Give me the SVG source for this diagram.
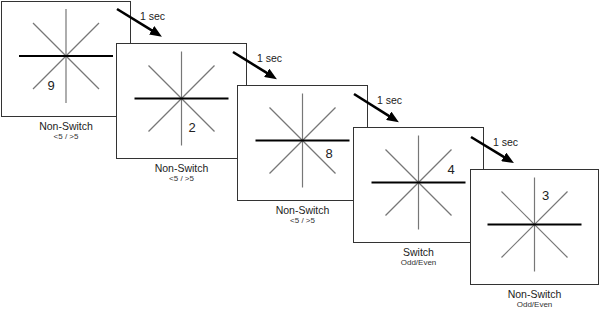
<svg xmlns="http://www.w3.org/2000/svg" xmlns:xlink="http://www.w3.org/1999/xlink" width="600" height="309" viewBox="0 0 600 309">
<style>
.frame{fill:#fff;stroke:#333;stroke-width:1}
.spoke{stroke:#777;stroke-width:1.2;fill:none}
.bar{stroke:#000;stroke-width:2;fill:none}
.digit{font-family:"Liberation Sans",Arial,sans-serif;font-size:13px;fill:#222;text-anchor:middle}
.lbl{font-family:"Liberation Sans",Arial,sans-serif;font-size:10.5px;fill:#222;text-anchor:middle}
.sub{font-family:"Liberation Sans",Arial,sans-serif;font-size:8px;fill:#333;text-anchor:middle}
.sec{font-family:"Liberation Sans",Arial,sans-serif;font-size:10.5px;fill:#222}
.arrow{stroke:#000;stroke-width:2.6;fill:none;marker-end:url(#head)}
</style>
<defs>
<marker id="head" markerUnits="userSpaceOnUse" viewBox="0 0 12 10" refX="2" refY="5" markerWidth="12" markerHeight="10" orient="auto">
<path d="M0,0 L12,5 L0,10 z" fill="#000"/>
</marker>
<g id="star">
<line class="spoke" x1="0" y1="-47" x2="0" y2="47"/>
<line class="spoke" x1="-33" y1="-33" x2="33" y2="33"/>
<line class="spoke" x1="-33" y1="33" x2="33" y2="-33"/>
<line class="bar" x1="-47" y1="0" x2="47" y2="0"/>
</g>
</defs>
<g id="node1">
<rect class="frame" x="1.5" y="1.5" width="129" height="115"/>
<use xlink:href="#star" href="#star" transform="translate(66,56)"/>
<text class="digit" x="51" y="89.7">9</text>
<text class="lbl" x="66" y="129.5">Non-Switch</text>
<text class="sub" x="66" y="138.5">&lt;5 / &gt;5</text>
</g>
<g id="node2">
<rect class="frame" x="116.5" y="43.5" width="130" height="115"/>
<use xlink:href="#star" href="#star" transform="translate(181.5,98.5)"/>
<text class="digit" x="192" y="131.7">2</text>
<text class="lbl" x="181.5" y="171.5">Non-Switch</text>
<text class="sub" x="181.5" y="180.5">&lt;5 / &gt;5</text>
</g>
<g id="node3">
<rect class="frame" x="237.5" y="85.5" width="130" height="115"/>
<use xlink:href="#star" href="#star" transform="translate(302.5,140.5)"/>
<text class="digit" x="329" y="157.7">8</text>
<text class="lbl" x="302.5" y="213.5">Non-Switch</text>
<text class="sub" x="302.5" y="222.5">&lt;5 / &gt;5</text>
</g>
<g id="node4">
<rect class="frame" x="353.5" y="127.5" width="130" height="115"/>
<use xlink:href="#star" href="#star" transform="translate(418.5,182.5)"/>
<text class="digit" x="451" y="173.7">4</text>
<text class="lbl" x="418.5" y="255.5">Switch</text>
<text class="sub" x="418.5" y="264.5">Odd/Even</text>
</g>
<g id="node5">
<rect class="frame" x="470.5" y="169.5" width="128" height="115"/>
<use xlink:href="#star" href="#star" transform="translate(534.5,224.5)"/>
<text class="digit" x="545.7" y="200.4">3</text>
<text class="lbl" x="534.5" y="297.5">Non-Switch</text>
<text class="sub" x="534.5" y="306.5">Odd/Even</text>
</g>
<g id="connectors">
<line class="arrow" x1="117" y1="9" x2="153.4" y2="31.4"/>
<text class="sec" x="140" y="19.5">1 sec</text>
<line class="arrow" x1="233" y1="52" x2="268.4" y2="73.9"/>
<text class="sec" x="257" y="62">1 sec</text>
<line class="arrow" x1="354" y1="94" x2="390.4" y2="116.9"/>
<text class="sec" x="377" y="103.5">1 sec</text>
<line class="arrow" x1="471" y1="137" x2="505.4" y2="157.9"/>
<text class="sec" x="493" y="146">1 sec</text>
</g>
</svg>
